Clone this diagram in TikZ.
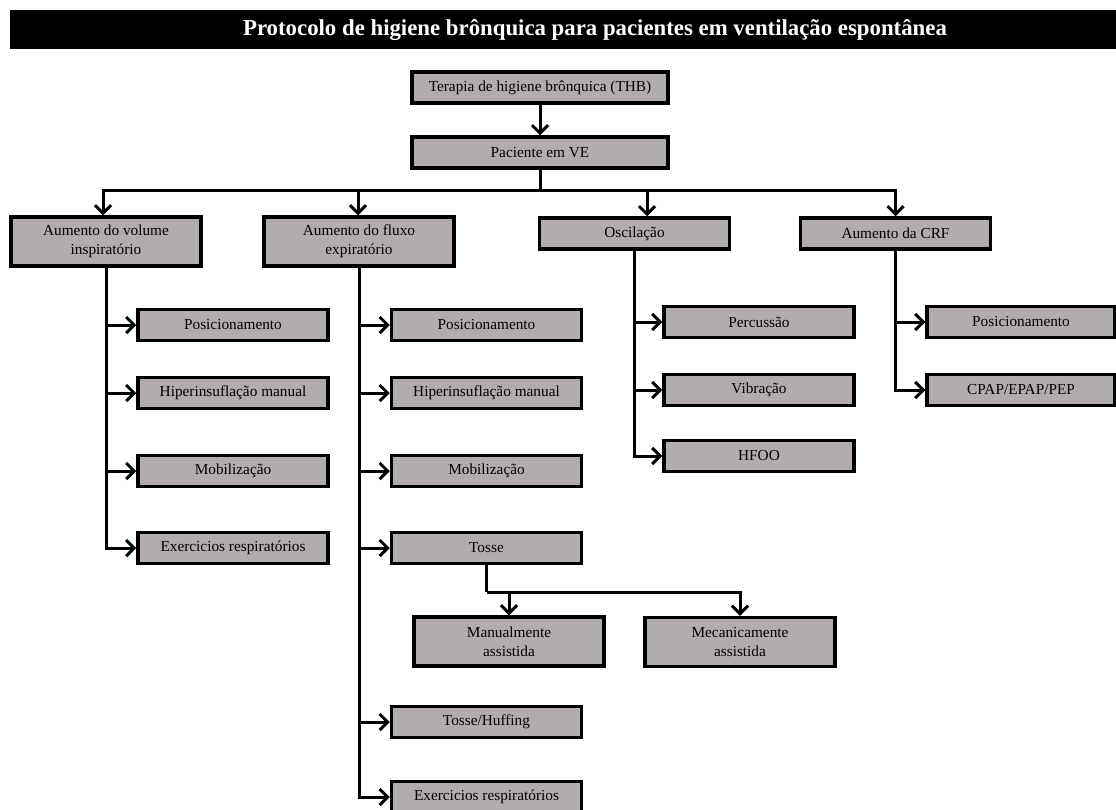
\documentclass[tikz,border=0pt]{standalone}
\usepackage{xcolor}
\usepackage{fontspec}
\setmainfont{Liberation Serif}
\usepackage{tikz}
\usetikzlibrary{arrows.meta}

\definecolor{boxgray}{RGB}{178,172,172}

\begin{document}
\begin{tikzpicture}[x=1pt,y=1pt,
    box/.style={draw,line width=3.5pt,fill=boxgray,minimum width=190pt,minimum height=31pt,inner sep=0pt,align=center,font=\fontsize{15.3}{19}\selectfont},
    tall/.style={box,minimum height=49pt},
    conn/.style={line width=3pt},
    arr/.style={conn,-{Straight Barb[length=8pt,width=16pt]}}]
\useasboundingbox (0,0) rectangle (1116,-809);
% title bar
\fill[black] (10,-10) rectangle (1116,-49);
\node[text=white,font=\fontsize{22.8}{26}\selectfont\bfseries] (title) at (595,-30) {Protocolo de higiene brônquica para pacientes em ventilação espontânea};

\node[box,minimum width=256pt] (thb) at (540,-87.5) {Terapia de higiene brônquica (THB)};
\node[box,minimum width=256pt] (pve) at (540,-152.5) {Paciente em VE};

\node[tall] (vol) at (106,-241.5) {Aumento do volume\\inspiratório};
\node[tall] (flx) at (359,-241.5) {Aumento do fluxo\\expiratório};
\node[box] (osc) at (634.5,-233.5) {Oscilação};
\node[box] (crf) at (895.5,-233.5) {Aumento da CRF};

% volume inspiratorio
\node[box] (volpos) at (233,-325) {Posicionamento};
\node[box] (volhip) at (233,-393) {Hiperinsuflação manual};
\node[box] (volmob) at (233,-471) {Mobilização};
\node[box] (volexe) at (233,-548) {Exercicios respiratórios};

% fluxo expiratorio
\node[box] (flxpos) at (486.5,-325) {Posicionamento};
\node[box] (flxhip) at (486.5,-393) {Hiperinsuflação manual};
\node[box] (flxmob) at (486.5,-471) {Mobilização};
\node[box] (flxtos) at (486.5,-548) {Tosse};
\node[tall] (man) at (509,-641.5) {Manualmente\\assistida};
\node[tall] (mec) at (740,-642) {Mecanicamente\\assistida};
\node[box] (flxhuf) at (486.5,-722) {Tosse/Huffing};
\node[box] (flxexe) at (486.5,-797) {Exercicios respiratórios};

% oscilacao
\node[box] (oscper) at (759,-322) {Percussão};
\node[box] (oscvib) at (759,-390) {Vibração};
\node[box] (oschf) at (759,-456) {HFOO};

% CRF
\node[box,minimum width=188pt] (crfpos) at (1021,-322) {Posicionamento};
\node[box,minimum width=188pt] (crfcp) at (1021,-390) {CPAP/EPAP/PEP};

% connectors
\draw[arr] (thb) -- (pve);
\coordinate (split) at (540,-190);
\draw[conn] (pve) -- (split);
\draw[arr] (split) -| ([xshift=-3pt]vol.north);
\draw[arr] (split) -| ([xshift=-1pt]flx.north);
\draw[arr] (split) -| ([xshift=12.5pt]osc.north);
\draw[arr] (split) -| (crf.north);

\draw[arr] (vol.south) |- (volexe.west);
\draw[arr] (vol.south |- volpos.west) -- (volpos.west);
\draw[arr] (vol.south |- volhip.west) -- (volhip.west);
\draw[arr] (vol.south |- volmob.west) -- (volmob.west);

\draw[arr] (flx.south) |- (flxexe.west);
\draw[arr] (flx.south |- flxpos.west) -- (flxpos.west);
\draw[arr] (flx.south |- flxhip.west) -- (flxhip.west);
\draw[arr] (flx.south |- flxmob.west) -- (flxmob.west);
\draw[arr] (flx.south |- flxtos.west) -- (flxtos.west);
\draw[arr] (flx.south |- flxhuf.west) -- (flxhuf.west);
\coordinate (tosplit) at ([yshift=-27pt]flxtos.south);
\draw[conn] (flxtos) -- (tosplit);
\draw[arr] (tosplit) -| (man.north);
\draw[arr] (tosplit) -| (mec.north);

\draw[arr] (osc.south) |- (oschf.west);
\draw[arr] (osc.south |- oscper.west) -- (oscper.west);
\draw[arr] (osc.south |- oscvib.west) -- (oscvib.west);

\draw[arr] (crf.south) |- (crfcp.west);
\draw[arr] (crf.south |- crfpos.west) -- (crfpos.west);
\end{tikzpicture}
\end{document}
